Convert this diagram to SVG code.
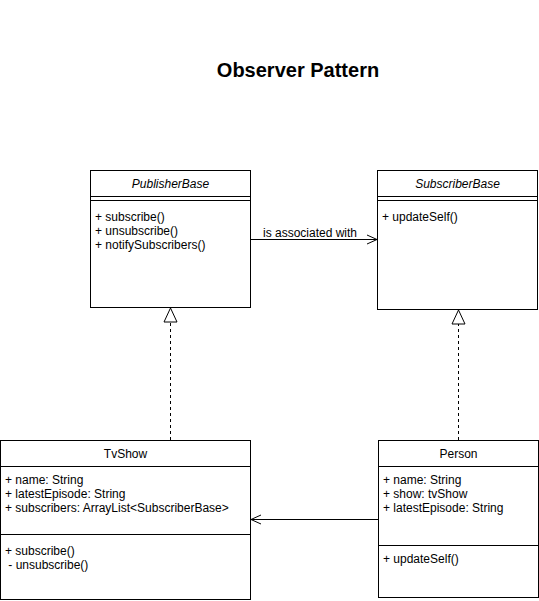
<svg xmlns="http://www.w3.org/2000/svg" width="539" height="601" viewBox="0 0 539 601">
  <style>
    text { font-family: "Liberation Sans", Arial, Helvetica, sans-serif; font-size: 12px; fill: #000; }
    .title { font-size: 20px; font-weight: bold; }
    .abstract { font-style: italic; }
    .box { fill: #fff; stroke: #000; stroke-width: 1; }
    .sep { fill: none; stroke: #000; stroke-width: 1; }
    .edge { fill: none; stroke: #000; stroke-width: 1; }
    .dashed { stroke-dasharray: 3 3; }
  </style>
  <defs>
    <marker id="openArrow" viewBox="0 0 12 12" refX="11" refY="6" markerWidth="12" markerHeight="12" markerUnits="userSpaceOnUse" orient="auto">
      <path d="M1,1.5 L11,6 L1,10.5" fill="none" stroke="#000" stroke-width="1"/>
    </marker>
    <marker id="realize" viewBox="0 0 16 16" refX="15" refY="8" markerWidth="16" markerHeight="16" markerUnits="userSpaceOnUse" orient="auto">
      <path d="M1,1.5 L15,8 L1,14.5 Z" fill="#fff" stroke="#000" stroke-width="1"/>
    </marker>
  </defs>

  <rect width="539" height="601" fill="#fff"/>

  <text class="title" x="298" y="77" text-anchor="middle">Observer Pattern</text>

  <g id="connectors">
    <!-- association: PublisherBase -> SubscriberBase -->
    <line class="edge" x1="250.5" y1="239.5" x2="377" y2="239.5" marker-end="url(#openArrow)"/>
    <text x="263" y="237">is associated with</text>
    <!-- TvShow realizes PublisherBase -->
    <line class="edge dashed" x1="170.5" y1="440" x2="170.5" y2="308" marker-end="url(#realize)"/>
    <!-- Person realizes SubscriberBase -->
    <line class="edge dashed" x1="458.5" y1="440" x2="458.5" y2="310" marker-end="url(#realize)"/>
    <!-- Person -> TvShow -->
    <line class="edge" x1="378" y1="519.5" x2="251" y2="519.5" marker-end="url(#openArrow)"/>
  </g>

  <g id="publisher-base">
    <rect class="box" x="90.5" y="170.5" width="160" height="137"/>
    <line class="sep" x1="90.5" y1="196.5" x2="250.5" y2="196.5"/>
    <line class="sep" x1="90.5" y1="200.5" x2="250.5" y2="200.5"/>
    <text class="abstract" x="170.5" y="188" text-anchor="middle">PublisherBase</text>
    <text x="95" y="221">+ subscribe()</text>
    <text x="95" y="235">+ unsubscribe()</text>
    <text x="95" y="249">+ notifySubscribers()</text>
  </g>

  <g id="subscriber-base">
    <rect class="box" x="377.5" y="170.5" width="160" height="139"/>
    <line class="sep" x1="377.5" y1="196.5" x2="537.5" y2="196.5"/>
    <line class="sep" x1="377.5" y1="200.5" x2="537.5" y2="200.5"/>
    <text class="abstract" x="457.5" y="188" text-anchor="middle">SubscriberBase</text>
    <text x="382" y="221">+ updateSelf()</text>
  </g>

  <g id="tv-show">
    <rect class="box" x="0.5" y="440.5" width="250" height="159"/>
    <line class="sep" x1="0.5" y1="466.5" x2="250.5" y2="466.5"/>
    <line class="sep" x1="0.5" y1="534.5" x2="250.5" y2="534.5"/>
    <text x="125.5" y="458" text-anchor="middle">TvShow</text>
    <text x="5" y="484">+ name: String</text>
    <text x="5" y="498">+ latestEpisode: String</text>
    <text x="5" y="512">+ subscribers: ArrayList&lt;SubscriberBase&gt;</text>
    <text x="5" y="555">+ subscribe()</text>
    <text x="5" y="569" xml:space="preserve"> - unsubscribe()</text>
  </g>

  <g id="person">
    <rect class="box" x="378.5" y="440.5" width="160" height="157"/>
    <line class="sep" x1="378.5" y1="466.5" x2="538.5" y2="466.5"/>
    <line class="sep" x1="378.5" y1="545.5" x2="538.5" y2="545.5"/>
    <text x="458.5" y="458" text-anchor="middle">Person</text>
    <text x="383" y="484">+ name: String</text>
    <text x="383" y="498">+ show: tvShow</text>
    <text x="383" y="512">+ latestEpisode: String</text>
    <text x="383" y="563">+ updateSelf()</text>
  </g>
</svg>
